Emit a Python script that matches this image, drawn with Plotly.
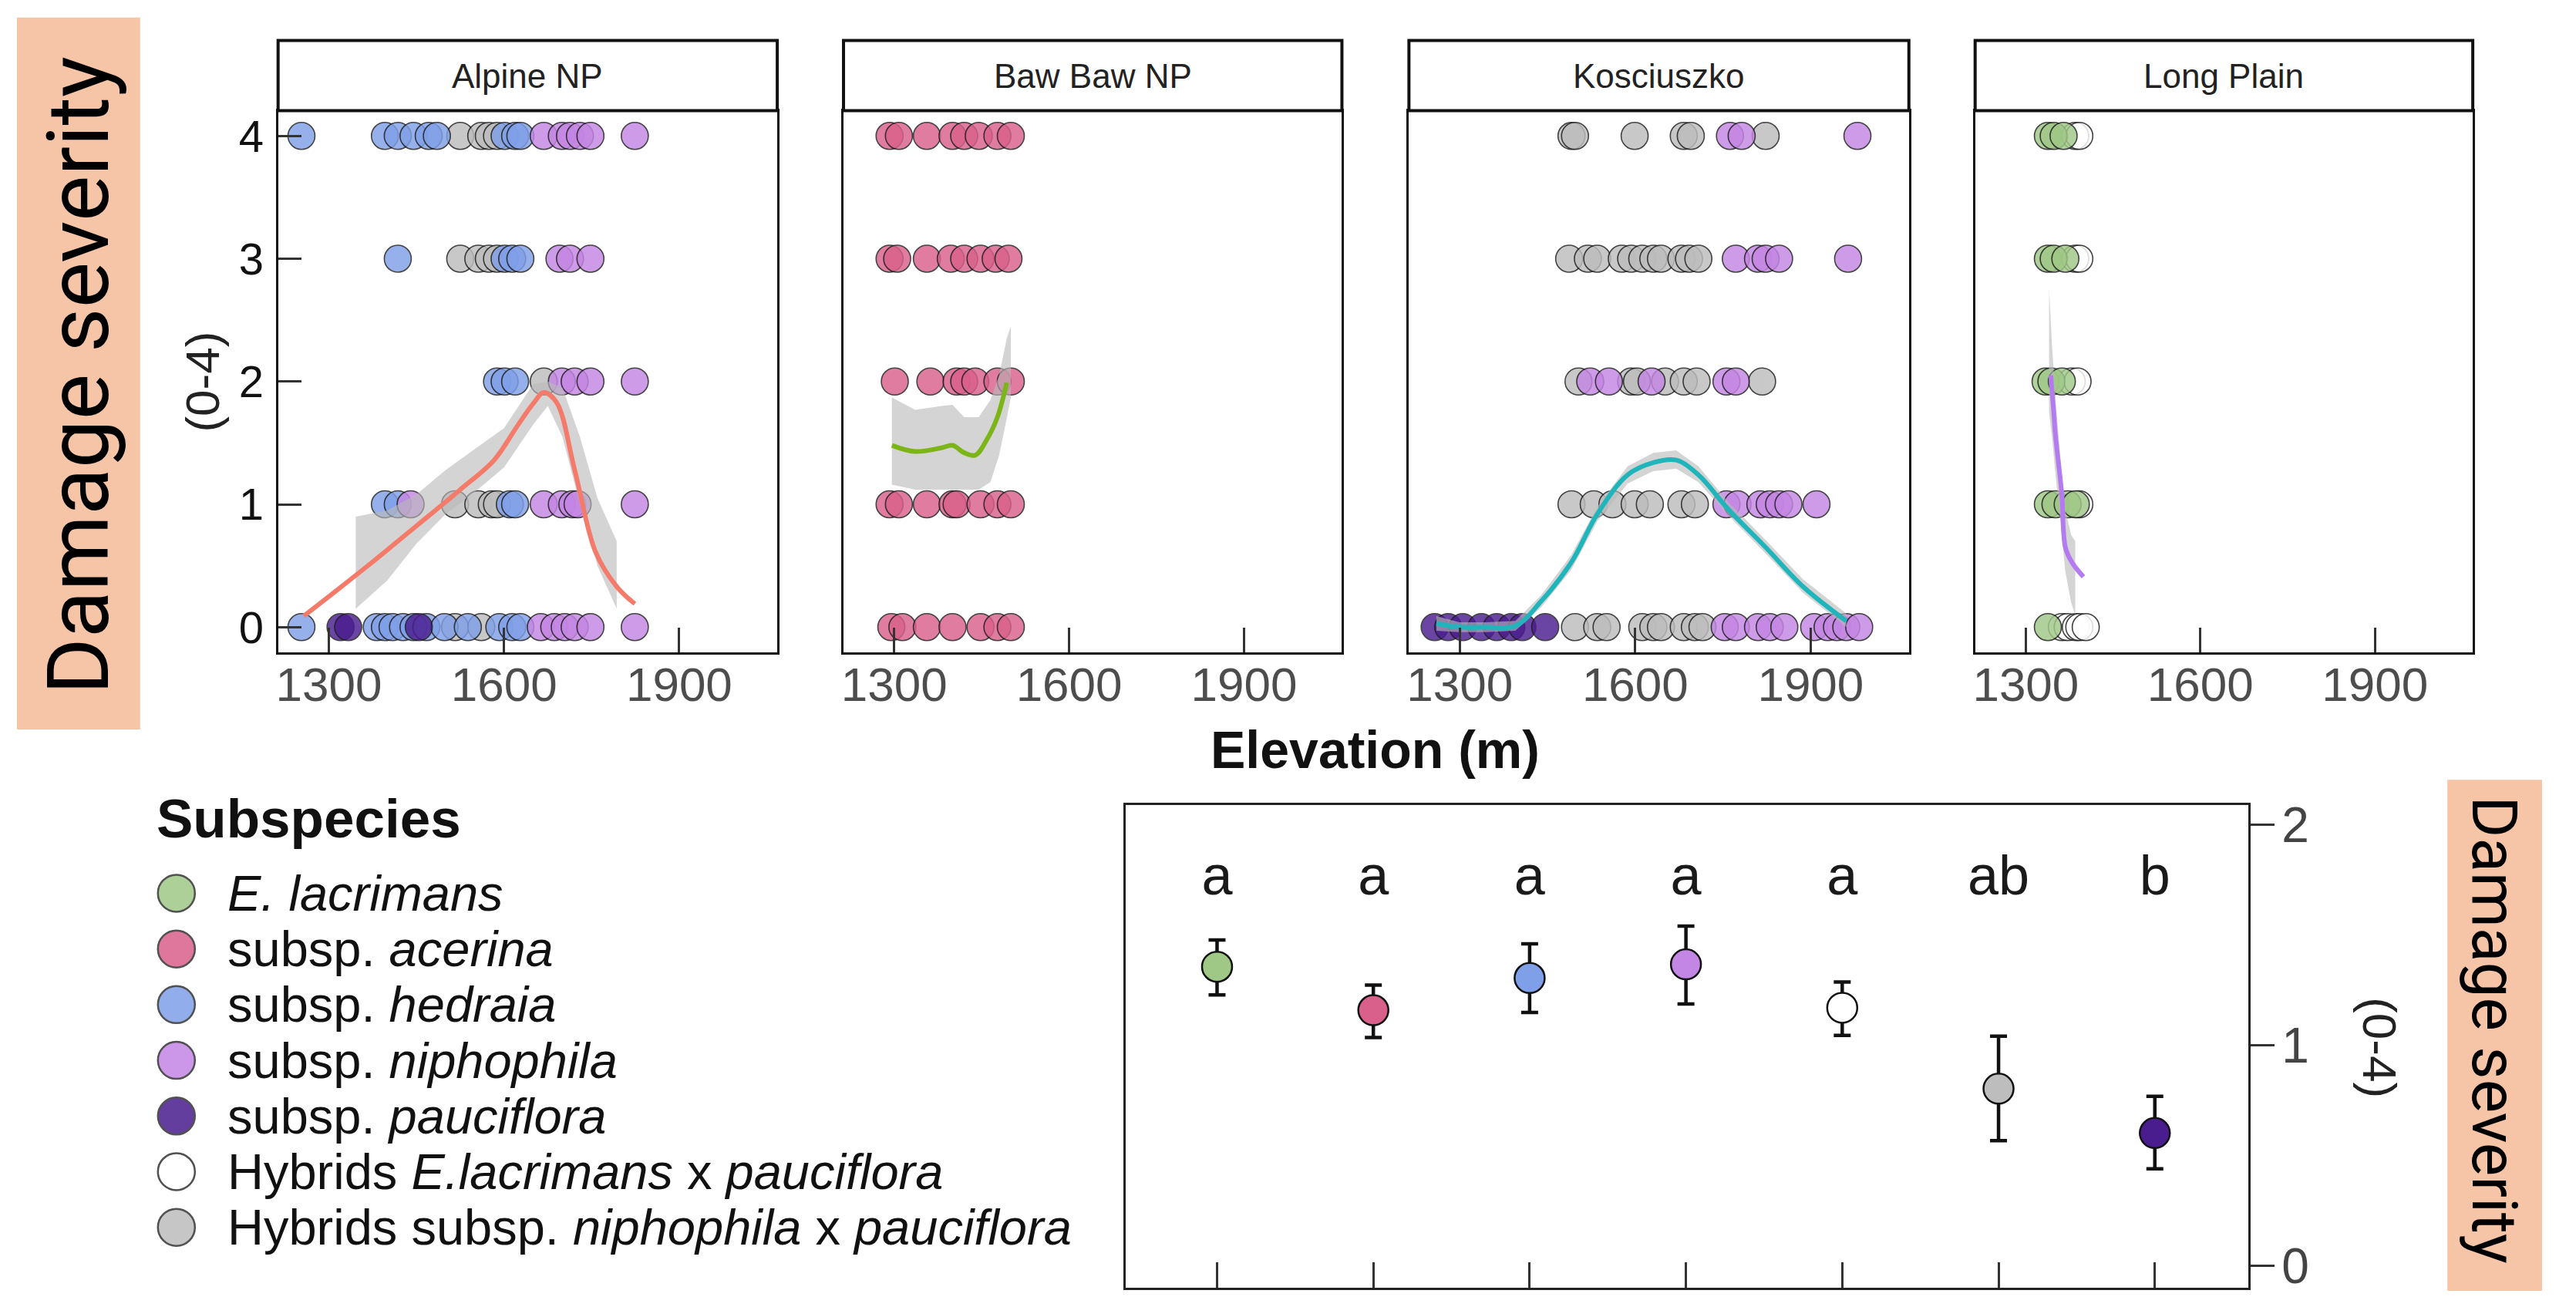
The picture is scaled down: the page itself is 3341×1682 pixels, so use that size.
import plotly.graph_objects as go

W, H = 3341, 1682

# ---------------- data ----------------
SUB_CODES = ["lac", "ace", "hed", "nip", "pau", "hlp", "hnp"]
SUB_LABELS = ["<i>E. lacrimans</i>", "subsp. <i>acerina</i>", "subsp. <i>hedraia</i>",
              "subsp. <i>niphophila</i>", "subsp. <i>pauciflora</i>",
              "Hybrids <i>E.lacrimans</i> x <i>pauciflora</i>",
              "Hybrids subsp. <i>niphophila</i> x <i>pauciflora</i>"]
SUB_COLORS = ["#9fc887", "#d9608a", "#7f9fe8", "#c486e4", "#4a1d8f", "#ffffff", "#bdbdbd"]

SITES = ["Alpine NP", "Baw Baw NP", "Kosciuszko", "Long Plain"]
ELEV_TICKS = [1300, 1600, 1900]
SEV_TICKS = [0, 1, 2, 3, 4]

ALPINE_ELEV = [1253, 1396, 1418, 1445, 1471, 1485, 1525, 1561, 1574, 1588, 1601, 1619, 1628, 1668, 1699, 1713, 1730, 1748, 1824,
               1418, 1525, 1556, 1574, 1588, 1601, 1614, 1628, 1695, 1713, 1748,
               1588, 1601, 1619, 1668, 1699, 1721, 1748, 1824,
               1396, 1418, 1440, 1516, 1556, 1579, 1588, 1610, 1619, 1668, 1699, 1717, 1726, 1824,
               1253, 1320, 1333, 1382, 1396, 1409, 1427, 1445, 1454, 1467, 1498, 1516, 1538, 1561, 1592, 1614, 1628, 1663, 1686, 1704, 1721, 1748, 1824]
ALPINE_SEV = [4, 4, 4, 4, 4, 4, 4, 4, 4, 4, 4, 4, 4, 4, 4, 4, 4, 4, 4,
              3, 3, 3, 3, 3, 3, 3, 3, 3, 3, 3,
              2, 2, 2, 2, 2, 2, 2, 2,
              1, 1, 1, 1, 1, 1, 1, 1, 1, 1, 1, 1, 1, 1,
              0, 0, 0, 0, 0, 0, 0, 0, 0, 0, 0, 0, 0, 0, 0, 0, 0, 0, 0, 0, 0, 0, 0]
ALPINE_SUB = ["hed", "hed", "hed", "hed", "hed", "hed", "hnp", "hnp", "hnp", "hnp", "hed", "hed", "hed", "nip", "nip", "nip", "nip", "nip", "nip",
              "hed", "hnp", "hnp", "hnp", "hnp", "hed", "hed", "hed", "nip", "nip", "nip",
              "hed", "hed", "hed", "hnp", "nip", "nip", "nip", "nip",
              "hed", "hed", "nip", "hnp", "hnp", "hnp", "hnp", "hed", "hed", "nip", "nip", "nip", "nip", "nip",
              "hed", "pau", "pau", "hed", "hed", "hed", "hed", "hed", "pau", "hed", "hed", "hnp", "hed", "hnp", "hed", "hed", "hed", "nip", "nip", "nip", "nip", "nip", "nip"]

BAWBAW_ELEV = [1292, 1308, 1356, 1400, 1420, 1445, 1477, 1500,
               1292, 1305, 1356, 1397, 1420, 1448, 1474, 1496,
               1301, 1362, 1407, 1420, 1439, 1477, 1500,
               1292, 1308, 1356, 1400, 1407, 1448, 1477, 1500,
               1295, 1314, 1356, 1400, 1448, 1477, 1500]
BAWBAW_SEV = [4, 4, 4, 4, 4, 4, 4, 4,
              3, 3, 3, 3, 3, 3, 3, 3,
              2, 2, 2, 2, 2, 2, 2,
              1, 1, 1, 1, 1, 1, 1, 1,
              0, 0, 0, 0, 0, 0, 0]
BAWBAW_SUB = ["ace"] * 38

KOSC_ELEV = [1491, 1497, 1599, 1683, 1695, 1762, 1782, 1823, 1980,
             1487, 1519, 1535, 1577, 1593, 1612, 1631, 1644, 1679, 1692, 1708, 1772, 1810, 1823, 1846, 1964,
             1503, 1523, 1555, 1593, 1603, 1628, 1651, 1683, 1705, 1756, 1772, 1817,
             1491, 1529, 1561, 1599, 1625, 1679, 1702, 1756, 1775, 1814, 1830, 1846, 1862, 1910,
             1257, 1280, 1305, 1337, 1363, 1388, 1407, 1446, 1497, 1535, 1551, 1612, 1631, 1644, 1683, 1702, 1715,
             1753, 1772, 1810, 1830, 1855, 1906, 1929, 1945, 1961, 1983]
KOSC_SEV = [4, 4, 4, 4, 4, 4, 4, 4, 4,
            3, 3, 3, 3, 3, 3, 3, 3, 3, 3, 3, 3, 3, 3, 3, 3,
            2, 2, 2, 2, 2, 2, 2, 2, 2, 2, 2, 2,
            1, 1, 1, 1, 1, 1, 1, 1, 1, 1, 1, 1, 1, 1,
            0, 0, 0, 0, 0, 0, 0, 0, 0, 0, 0, 0, 0, 0, 0, 0, 0,
            0, 0, 0, 0, 0, 0, 0, 0, 0, 0]
KOSC_SUB = ["hnp", "hnp", "hnp", "hnp", "hnp", "nip", "nip", "hnp", "nip",
            "hnp", "hnp", "hnp", "hnp", "hnp", "hnp", "hnp", "hnp", "hnp", "hnp", "hnp", "nip", "nip", "nip", "nip", "nip",
            "hnp", "nip", "nip", "hnp", "hnp", "nip", "hnp", "hnp", "hnp", "nip", "nip", "hnp",
            "hnp", "hnp", "hnp", "hnp", "hnp", "hnp", "hnp", "nip", "nip", "nip", "nip", "nip", "nip", "nip",
            "pau", "pau", "pau", "pau", "pau", "pau", "pau", "pau", "hnp", "hnp", "hnp", "hnp", "hnp", "hnp", "hnp", "hnp", "hnp",
            "nip", "nip", "nip", "nip", "nip", "nip", "nip", "nip", "nip", "nip"]

LONG_ELEV = [1338, 1348, 1365, 1385, 1392,
             1338, 1348, 1368, 1385, 1392,
             1334, 1344, 1362, 1379, 1389,
             1338, 1351, 1372, 1386, 1392,
             1338, 1362, 1372, 1386, 1392, 1403]
LONG_SEV = [4, 4, 4, 4, 4,
            3, 3, 3, 3, 3,
            2, 2, 2, 2, 2,
            1, 1, 1, 1, 1,
            0, 0, 0, 0, 0, 0]
LONG_SUB = ["lac", "lac", "lac", "hlp", "hlp",
            "lac", "lac", "lac", "hlp", "hlp",
            "lac", "lac", "lac", "hlp", "hlp",
            "lac", "lac", "lac", "lac", "hlp",
            "lac", "hlp", "hlp", "hlp", "hlp", "hlp"]

# smoothed fits and confidence ribbons
ALPINE_FIT_X = [1257, 1364, 1454, 1525, 1583, 1623, 1650, 1668, 1690, 1721, 1757, 1793, 1824]
ALPINE_FIT_Y = [0.09, 0.49, 0.84, 1.12, 1.36, 1.64, 1.82, 1.91, 1.83, 1.28, 0.61, 0.33, 0.19]
ALPINE_CI_X = [1346, 1400, 1450, 1500, 1550, 1600, 1650, 1675, 1700, 1730, 1760, 1793]
ALPINE_CI_LO = [0.15, 0.38, 0.68, 0.92, 1.10, 1.30, 1.65, 1.80, 1.55, 1.00, 0.50, 0.15]
ALPINE_CI_HI = [0.90, 0.95, 1.08, 1.28, 1.45, 1.62, 1.98, 2.00, 1.95, 1.55, 1.05, 0.70]

BAWBAW_FIT_X = [1296, 1336, 1381, 1400, 1420, 1439, 1458, 1477, 1493]
BAWBAW_FIT_Y = [1.48, 1.43, 1.46, 1.48, 1.42, 1.40, 1.52, 1.71, 1.99]
BAWBAW_CI_X = [1296, 1336, 1381, 1400, 1420, 1445, 1465, 1480, 1493, 1500]
BAWBAW_CI_LO = [1.16, 1.12, 1.12, 1.12, 1.12, 1.12, 1.18, 1.40, 1.70, 1.87]
BAWBAW_CI_HI = [1.87, 1.77, 1.80, 1.81, 1.71, 1.71, 1.85, 2.05, 2.35, 2.45]

KOSC_FIT_X = [1260, 1299, 1343, 1395, 1439, 1491, 1535, 1587, 1631, 1670, 1708, 1759, 1823, 1887, 1961]
KOSC_FIT_Y = [0.03, 0.00, 0.00, 0.01, 0.21, 0.53, 0.92, 1.24, 1.34, 1.36, 1.24, 0.96, 0.65, 0.33, 0.05]
KOSC_CI_X = [1260, 1299, 1343, 1395, 1439, 1491, 1535, 1587, 1631, 1670, 1708, 1759, 1823, 1887, 1961]
KOSC_CI_LO = [-0.03, -0.04, -0.04, -0.03, 0.16, 0.47, 0.86, 1.17, 1.27, 1.29, 1.18, 0.91, 0.60, 0.28, 0.00]
KOSC_CI_HI = [0.09, 0.04, 0.04, 0.05, 0.26, 0.59, 0.98, 1.31, 1.42, 1.44, 1.31, 1.02, 0.71, 0.39, 0.11]

LONG_FIT_X = [1343, 1348, 1351, 1357, 1362, 1368, 1379, 1399]
LONG_FIT_Y = [2.05, 1.75, 1.56, 1.30, 1.08, 0.65, 0.53, 0.41]
LONG_CI_X = [1340, 1345, 1352, 1360, 1368, 1378, 1385]
LONG_CI_LO = [1.75, 1.55, 1.20, 0.85, 0.45, 0.20, 0.10]
LONG_CI_HI = [2.75, 2.30, 1.80, 1.35, 0.95, 0.75, 0.70]

FIT_COLORS = ["#f47a6a", "#7cb518", "#1fb5bb", "#b47af0"]

# group means (bottom panel)
GROUP_ORDER = ["lac", "ace", "hed", "nip", "hlp", "hnp", "pau"]
GROUP_MEAN = [1.356, 1.159, 1.305, 1.367, 1.170, 0.803, 0.602]
GROUP_UPPER = [1.477, 1.273, 1.460, 1.540, 1.287, 1.041, 0.768]
GROUP_LOWER = [1.228, 1.035, 1.149, 1.187, 1.045, 0.567, 0.440]
GROUP_LETTERS = ["a", "a", "a", "a", "a", "ab", "b"]
MEAN_TICKS = [0, 1, 2]

# ---------------- layout helpers ----------------
def px(x):
    return x / W

def py(y):
    return 1 - y / H

PANEL_X = [(358, 1006), (1092, 1739), (1826, 2475), (2561, 3207)]
PANEL_Y = (135, 845)
STRIP_Y = (43, 135)
MEAN_X = (1458, 2916)
MEAN_Y = (1045, 1678)

FONT = "Liberation Sans, Arial, sans-serif"
LABEL_FONT = "Roboto, sans-serif"

fig = go.Figure()
color_of = dict(zip(SUB_CODES, SUB_COLORS))

site_data = [
    (ALPINE_ELEV, ALPINE_SEV, ALPINE_SUB, ALPINE_FIT_X, ALPINE_FIT_Y, ALPINE_CI_X, ALPINE_CI_LO, ALPINE_CI_HI),
    (BAWBAW_ELEV, BAWBAW_SEV, BAWBAW_SUB, BAWBAW_FIT_X, BAWBAW_FIT_Y, BAWBAW_CI_X, BAWBAW_CI_LO, BAWBAW_CI_HI),
    (KOSC_ELEV, KOSC_SEV, KOSC_SUB, KOSC_FIT_X, KOSC_FIT_Y, KOSC_CI_X, KOSC_CI_LO, KOSC_CI_HI),
    (LONG_ELEV, LONG_SEV, LONG_SUB, LONG_FIT_X, LONG_FIT_Y, LONG_CI_X, LONG_CI_LO, LONG_CI_HI),
]

draw_order = ["hnp", "hlp", "lac", "ace", "hed", "pau", "nip"]
for i, (ex, sv, sb, fx, fy, cx, clo, chi) in enumerate(site_data):
    ax = "" if i == 0 else str(i + 1)
    for code in draw_order:
        xs = [e for e, s in zip(ex, sb) if s == code]
        ys = [v for v, s in zip(sv, sb) if s == code]
        if not xs:
            continue
        fig.add_trace(go.Scatter(
            x=xs, y=ys, mode="markers", xaxis="x" + ax, yaxis="y" + ax, showlegend=False,
            marker=dict(size=35, color=color_of[code], opacity=0.82,
                        line=dict(color="#1a1a1a", width=1.6))))
    fig.add_trace(go.Scatter(
        x=cx + cx[::-1], y=chi + clo[::-1], fill="toself", mode="none",
        fillcolor="rgba(185,185,185,0.62)", xaxis="x" + ax, yaxis="y" + ax, showlegend=False))
    fig.add_trace(go.Scatter(
        x=fx, y=fy, mode="lines", line=dict(color=FIT_COLORS[i], width=6, shape="spline"),
        xaxis="x" + ax, yaxis="y" + ax, showlegend=False))

# bottom panel: means with error bars
cats = list(range(1, len(GROUP_ORDER) + 1))
fig.add_trace(go.Scatter(
    x=cats, y=GROUP_MEAN, mode="markers", xaxis="x5", yaxis="y5", showlegend=False,
    marker=dict(size=39, color=[color_of[c] for c in GROUP_ORDER], line=dict(color="#111", width=2.5)),
    error_y=dict(type="data", symmetric=False,
                 array=[u - m for u, m in zip(GROUP_UPPER, GROUP_MEAN)],
                 arrayminus=[m - l for m, l in zip(GROUP_MEAN, GROUP_LOWER)],
                 color="#111", thickness=4.5, width=11)))
LETTER_LEVEL = 1.745
fig.add_trace(go.Scatter(
    x=cats, y=[LETTER_LEVEL] * len(cats), mode="text", text=GROUP_LETTERS,
    textfont=dict(size=72, color="#1a1a1a", family=FONT), xaxis="x5", yaxis="y5", showlegend=False))

# manual legend (own hidden axis)
rows = list(range(len(SUB_CODES)))
fig.add_trace(go.Scatter(
    x=[76] * len(rows), y=rows, mode="markers", xaxis="x6", yaxis="y6", showlegend=False,
    marker=dict(size=48, color=SUB_COLORS, opacity=0.85, line=dict(color="#333", width=2.5))))

layout = dict(
    width=W, height=H, margin=dict(l=0, r=0, t=0, b=0),
    paper_bgcolor="white", plot_bgcolor="white",
    font=dict(family=FONT, color="#111"),
    showlegend=False,
)

for i, (x0, x1) in enumerate(PANEL_X):
    k = "" if i == 0 else str(i + 1)
    layout["xaxis" + k] = dict(
        domain=[px(x0), px(x1)], range=[1213, 2068], tickvals=ELEV_TICKS,
        ticks="inside", ticklen=32, tickwidth=3, tickcolor="#333",
        tickfont=dict(size=62, color="#4d4d4d"), ticklabelstandoff=-14,
        showline=True, mirror=True, linecolor="#111", linewidth=3,
        showgrid=False, zeroline=False, anchor="y" + k)
    layout["yaxis" + k] = dict(
        domain=[py(PANEL_Y[1]), py(PANEL_Y[0])], range=[-0.205, 4.205], tickvals=SEV_TICKS,
        ticks="inside" if i == 0 else "", ticklen=30, tickwidth=3, tickcolor="#333",
        showticklabels=(i == 0), tickfont=dict(size=58, color="#111"), ticklabelstandoff=4,
        showline=True, mirror=True, linecolor="#111", linewidth=3,
        showgrid=False, zeroline=False, anchor="x" + k)

layout["xaxis5"] = dict(
    domain=[px(MEAN_X[0]), px(MEAN_X[1])], range=[0.414, 7.6], tickvals=cats,
    ticks="inside", ticklen=33, tickwidth=3, tickcolor="#333", showticklabels=False,
    showline=True, mirror=True, linecolor="#222", linewidth=3,
    showgrid=False, zeroline=False, anchor="y5")
layout["yaxis5"] = dict(
    domain=[py(MEAN_Y[1]), py(MEAN_Y[0])], range=[-0.1, 2.09], tickvals=MEAN_TICKS,
    side="right", ticks="outside", ticklen=31, tickwidth=3, tickcolor="#333",
    tickfont=dict(size=64, color="#444"), ticklabelstandoff=-4, ticklabeloverflow="allow",
    showline=True, mirror=True, linecolor="#222", linewidth=3,
    showgrid=False, zeroline=False, anchor="x5")

layout["xaxis6"] = dict(domain=[px(150), px(1450)], range=[0, 1300], visible=False, anchor="y6")
layout["yaxis6"] = dict(domain=[py(1682), py(1020)], range=[7.14, -1.93], visible=False, anchor="x6")

shapes = []
annotations = []
for (x0, x1), name in zip(PANEL_X, SITES):
    shapes.append(dict(type="rect", xref="paper", yref="paper",
                       x0=px(x0), x1=px(x1), y0=py(STRIP_Y[1]), y1=py(STRIP_Y[0]),
                       line=dict(color="#111", width=4), fillcolor="white"))
    annotations.append(dict(text=name, xref="paper", yref="paper", x=px((x0 + x1) / 2),
                            y=py((STRIP_Y[0] + STRIP_Y[1]) / 2), showarrow=False,
                            xanchor="center", yanchor="middle",
                            font=dict(size=44, color="#222", family=FONT)))

# salmon label boxes
shapes.append(dict(type="rect", xref="paper", yref="paper", x0=px(19), x1=px(179),
                   y0=py(946), y1=py(13), line=dict(width=0), fillcolor="#f6c5a8", layer="below"))
shapes.append(dict(type="rect", xref="paper", yref="paper", x0=px(3174), x1=px(3297),
                   y0=py(1682), y1=py(1012), line=dict(width=0), fillcolor="#f6c5a8", layer="below"))

annotations += [
    dict(text="Damage severity", x=px(99), y=py(482), textangle=-90,
         font=dict(size=112, color="#000", family=LABEL_FONT)),
    dict(text="(0-4)", x=px(260), y=py(490), textangle=-90,
         font=dict(size=62, color="#222", family=FONT)),
    dict(text="<b>Elevation (m)</b>", x=px(1782), y=py(972),
         font=dict(size=68, color="#111", family=FONT)),
    dict(text="(0-4)", x=px(3086), y=py(1363), textangle=90,
         font=dict(size=62, color="#222", family=FONT)),
    dict(text="Damage severity", x=px(3235), y=py(1340), textangle=90,
         font=dict(size=82, color="#000", family=LABEL_FONT)),
]
for a in annotations[-5:]:
    a.update(xref="paper", yref="paper", showarrow=False, xanchor="center", yanchor="middle")
annotations.append(dict(text="<b>Subspecies</b>", xref="paper", yref="paper", x=px(198), y=py(1063),
                        xanchor="left", yanchor="middle", showarrow=False,
                        font=dict(size=71, color="#111", family=FONT)))
for r, lab in zip(rows, SUB_LABELS):
    annotations.append(dict(text=lab, xref="x6", yref="y6", x=140, y=r, xanchor="left", yanchor="middle",
                            showarrow=False, font=dict(size=65, color="#111", family=FONT)))

layout["shapes"] = shapes
layout["annotations"] = annotations
fig.update_layout(**layout)
fig.write_html("out.html", config={"displayModeBar": False},
               post_script="document.body.style.margin='0';document.body.style.overflow='hidden';")
